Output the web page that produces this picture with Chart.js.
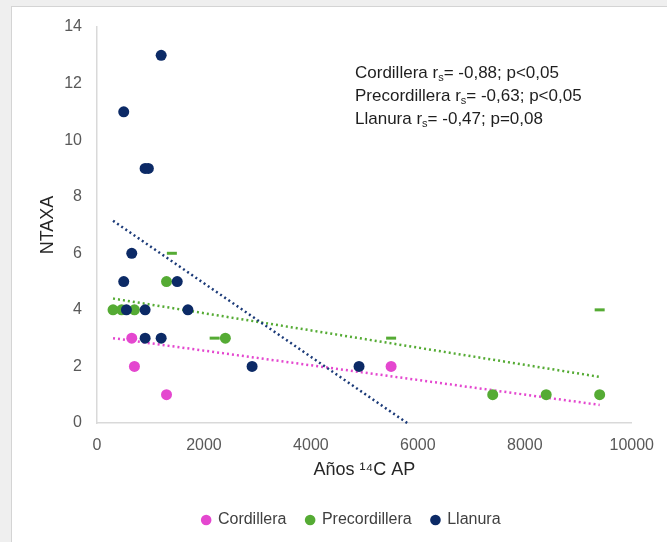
<!DOCTYPE html>
<html>
<head>
<meta charset="utf-8">
<script src="https://cdn.jsdelivr.net/npm/chart.js@4"></script>
<style>
html,body{margin:0;padding:0;width:667px;height:542px;overflow:hidden;background:#efefef;}
#panel{position:absolute;left:11px;top:6px;width:656px;height:536px;background:#fff;border-left:1px solid #d4d4d4;border-top:1px solid #d4d4d4;box-sizing:border-box;}
#wrap{position:absolute;left:0;top:0;width:667px;height:542px;}
#note{position:absolute;left:355px;top:61px;font-family:"Liberation Sans",Arial,sans-serif;font-size:17px;color:#1e1e1e;line-height:23px;white-space:nowrap;}
#note sub{font-size:11px;vertical-align:-3px;line-height:0;}
</style>
</head>
<body>
<div id="panel"></div>
<div id="wrap"><canvas id="c" width="667" height="542"></canvas></div>
<div id="note">
<div>Cordillera r<sub>s</sub>= -0,88; p&lt;0,05</div>
<div>Precordillera r<sub>s</sub>= -0,63; p&lt;0,05</div>
<div>Llanura r<sub>s</sub>= -0,47; p=0,08</div>
</div>
<script>
// ---- data ----
const seriesNames = ['Cordillera', 'Precordillera', 'Llanura'];
const cordX = [650, 700, 1300, 5500];
const cordY = [3, 2, 1, 2];
const precX = [300, 460, 700, 1300, 2400, 7400, 8400, 9400];
const precY = [4, 4, 4, 5, 3, 1, 1, 1];
const llanX = [1200, 500, 900, 960, 650, 500, 1500, 550, 900, 1700, 900, 1200, 2900, 4900];
const llanY = [13, 11, 9, 9, 6, 5, 5, 4, 4, 4, 3, 3, 2, 2];
const dashX = [1400, 2200, 5500, 9400];
const dashY = [6, 3, 3, 4];
// trendline end points
const cordTrendX = [300, 9400];
const cordTrendY = [3.0, 0.64];
const precTrendX = [300, 9400];
const precTrendY = [4.4, 1.63];
const llanTrendX = [300, 5800];
const llanTrendY = [7.15, 0];
// axis ticks
const xTicks = [0, 2000, 4000, 6000, 8000, 10000];
const yTicks = [0, 2, 4, 6, 8, 10, 12, 14];

const PINK = '#e447cf', GREEN = '#55ab34', NAVY = '#0c2a66';
const FONT = '"Liberation Sans", Arial, sans-serif';

const pts = (xs, ys) => xs.map((x, i) => ({x: x, y: ys[i]}));

const pointDs = (label, xs, ys, color, order) => ({
  type: 'scatter', label, data: pts(xs, ys), order,
  backgroundColor: color, borderColor: color, pointRadius: 5.5, pointHoverRadius: 5.5,
  pointBorderWidth: 0, pointStyle: 'circle'
});
const trendDs = (label, xs, ys, color, order) => ({
  type: 'line', label, data: pts(xs, ys), order,
  borderColor: color, borderWidth: 2.5, borderDash: [2, 3], pointRadius: 0,
  fill: false, tension: 0, showLine: true
});

const legendShift = {
  id: 'legendShift',
  afterLayout(chart) {
    const l = chart.legend;
    if (l) { l.left += 29; l.right += 29; }
  }
};

new Chart(document.getElementById('c'), {
  type: 'scatter',
  data: {
    datasets: [
      pointDs(seriesNames[0], cordX, cordY, PINK, 2),
      pointDs(seriesNames[1], precX, precY, GREEN, 1),
      pointDs(seriesNames[2], llanX, llanY, NAVY, 0),
      {
        type: 'scatter', label: 'dash', data: pts(dashX, dashY), order: 3,
        pointStyle: 'line', pointRadius: 5, pointHoverRadius: 5,
        borderColor: GREEN, pointBorderWidth: 3, backgroundColor: GREEN
      },
      trendDs('tc', cordTrendX, cordTrendY, PINK, 6),
      trendDs('tp', precTrendX, precTrendY, GREEN, 5),
      trendDs('tl', llanTrendX, llanTrendY, '#1b3a78', 4)
    ]
  },
  plugins: [legendShift],
  options: {
    responsive: false,
    animation: false,
    events: [],
    clip: false,
    layout: {padding: {left: 12, right: 34, top: 27, bottom: 4}},
    plugins: {
      tooltip: {enabled: false},
      legend: {
        position: 'bottom',
        labels: {
          filter: (item) => item.datasetIndex < 3,
          sort: (a, b) => a.datasetIndex - b.datasetIndex,
          usePointStyle: true, pointStyle: 'circle',
          boxWidth: 7.5, boxHeight: 7.5, padding: 20,
          color: '#404040', font: {family: FONT, size: 16}
        }
      }
    },
    scales: {
      x: {
        type: 'linear', min: 0, max: 10000,
        afterFit: (s) => { s.height = 69; },
        afterBuildTicks: (s) => { s.ticks = xTicks.map(v => ({value: v})); },
        grid: {display: false, drawTicks: false},
        border: {display: true, color: '#d9d9d9', width: 1.5},
        ticks: {color: '#595959', font: {family: FONT, size: 16}, padding: 13, maxRotation: 0,
          callback: (v) => String(v)},
        title: {display: true, text: 'Años ¹⁴C AP', color: '#262626',
          font: {family: FONT, size: 18}, padding: {top: 0, bottom: 11}}
      },
      y: {
        type: 'linear', min: 0, max: 14,
        afterFit: (s) => { s.width = 85; },
        afterBuildTicks: (s) => { s.ticks = yTicks.map(v => ({value: v})); },
        grid: {display: false, drawTicks: false},
        border: {display: true, color: '#d9d9d9', width: 1.5},
        ticks: {color: '#595959', font: {family: FONT, size: 16}, padding: 15,
          callback: (v) => String(v)},
        title: {display: true, text: 'NTAXA', color: '#262626',
          font: {family: FONT, size: 18}, padding: {top: 25, bottom: 0}}
      }
    }
  }
});
</script>
</body>
</html>
